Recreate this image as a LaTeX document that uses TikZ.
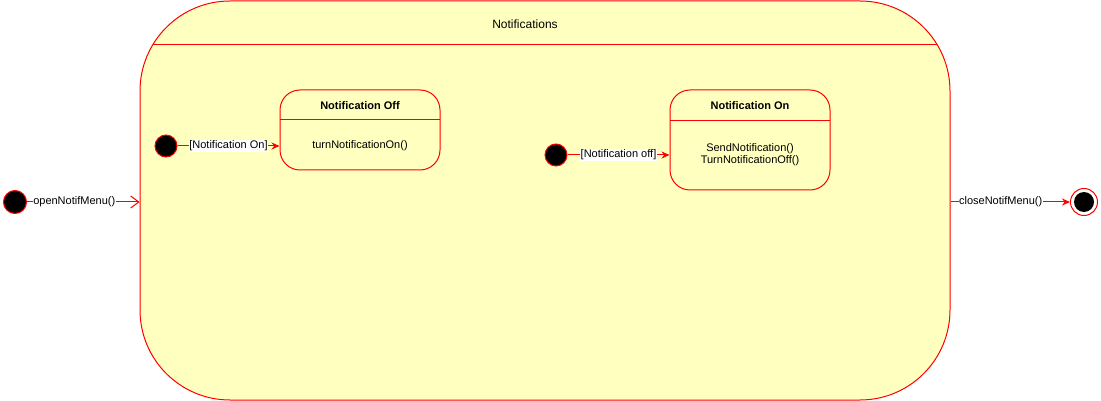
\documentclass[tikz,border=0pt]{standalone}
\usepackage{fontspec}
\setmainfont{Liberation Sans}
\usetikzlibrary{arrows.meta,positioning}
\definecolor{statefill}{HTML}{FFFFC0}
\definecolor{statered}{HTML}{FF0000}
\tikzset{
  statebox/.style={draw=statered,fill=statefill,rounded corners=20pt,minimum width=160pt},
  initdot/.style={circle,draw=statered,fill=black,minimum size=22pt,inner sep=0pt},
  trans/.style={draw=statered,-{Stealth[length=8pt,width=7pt]}},
  guard/.style={fill=white,inner sep=0.5pt},
  titlefont/.style={font=\fontsize{11}{12}\selectfont\bfseries},
}
\begin{document}
\begin{tikzpicture}[x=1pt,y=-1pt,line width=1pt,font=\fontsize{11}{12}\selectfont]
\useasboundingbox (0,0) rectangle (1101,401);
% outer composite state
\path (545,200.5) node [draw=statered,fill=statefill,rounded corners=90pt,
    minimum width=810pt,minimum height=399pt,
    path picture={\draw[draw=statered] ([yshift=-44pt]path picture bounding box.north west)
      -- ([yshift=-44pt]path picture bounding box.north east);}] (notif) {}
    +(-20,-176.5) node [font=\fontsize{12}{14}\selectfont] (notiftitle) {Notifications};
% inner states
\path (360,130) node [statebox,minimum height=80pt] (off) {}
    +(0,-24) node [titlefont] (offtitle) {Notification Off}
    +(0,16) node (offbody) {turnNotificationOn()};
\draw [draw=statered] (off.north west) ++(0,30.5) -- +(160,0);
\path (750,140) node [statebox,minimum height=100pt] (on) {}
    +(0,-34) node [titlefont] (ontitle) {Notification On}
    +(0,15) node [align=center] (onbody) {SendNotification()\\TurnNotificationOff()};
\draw [draw=statered] (on.north west) ++(0,31) -- +(160,0);
% initial states inside
\node [initdot] (offinit) at (166,146) {};
\node [initdot] (oninit) at (556,155) {};
\draw [trans] (offinit) -- (offinit -| off.west) node [midway,guard] {[Notification On]};
\draw [trans] (oninit) -- (oninit -| on.west) node [midway,guard] {[Notification off]};
% outer start and final
\node [initdot,minimum size=23pt] (start) at (15,202) {};
\draw [draw=statered,-{Straight Barb[length=8pt,width=12pt]}] (start) -- (start -| notif.west)
    node [pos=0.42,guard] {openNotifMenu()};
\node [circle,draw=statered,fill=white,minimum size=27pt,inner sep=0pt] (final) at (1084,202) {};
\node [circle,fill=black,minimum size=20pt,inner sep=0pt] (finaldot) at (final) {};
\draw [trans] (notif.east |- final) -- (final) node [pos=0.42,guard] {closeNotifMenu()};
\end{tikzpicture}
\end{document}
